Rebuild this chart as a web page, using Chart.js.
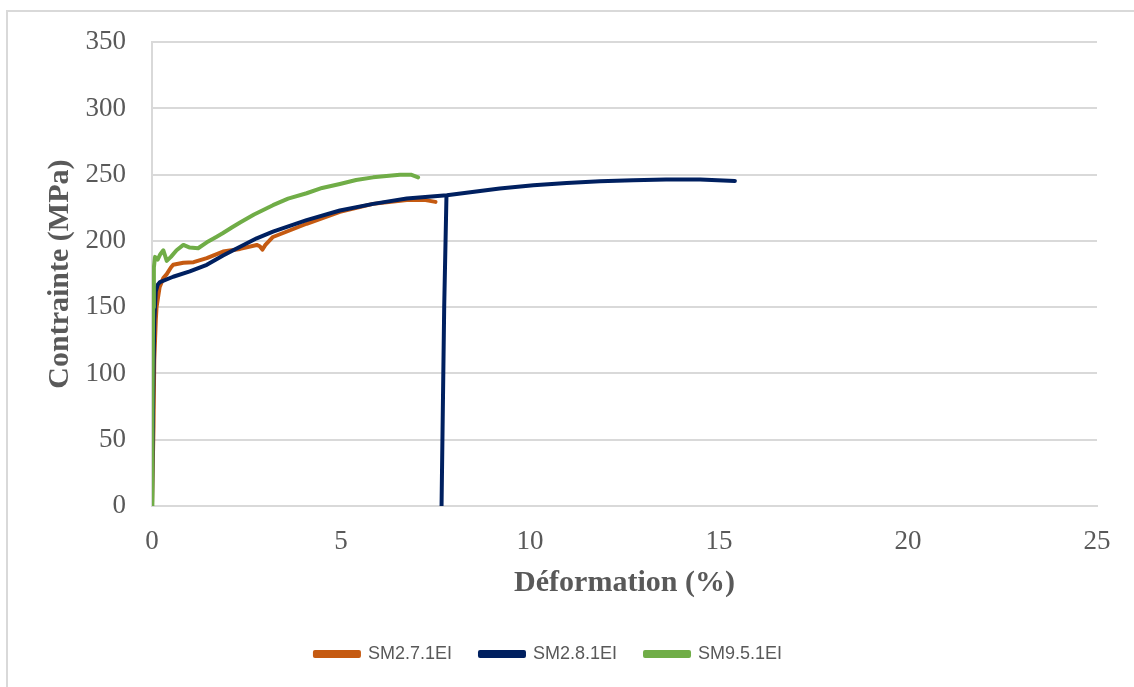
<!DOCTYPE html>
<html>
<head>
<meta charset="utf-8">
<script src="https://cdn.jsdelivr.net/npm/chart.js@4"></script>
<style>
  html, body { margin: 0; padding: 0; background: #fff; }
  #wrap { width: 1134px; height: 687px; }
</style>
</head>
<body>
<div id="wrap"><canvas id="chart" width="1134" height="687"></canvas></div>
<script>
// strain (%) / stress (MPa)
let sm27Strain = [0, 0.04, 0.06, 0.1, 0.12, 0.2, 0.3, 0.39, 0.5, 0.56, 0.83, 1.1, 1.45, 1.88, 2.33, 2.77, 2.85, 2.92, 3.0, 3.2, 4.09, 4.97, 5.85, 6.74, 7.2, 7.5];
let sm27Stress = [0, 60, 110, 140, 150, 165, 172, 175, 180, 182, 183.5, 184, 187, 192, 194, 197, 196, 193.5, 197, 203, 213, 222, 228, 231, 231, 229.5];

let sm28Strain = [0, 0.03, 0.06, 0.1, 0.15, 0.21, 0.56, 1.0, 1.45, 1.88, 2.33, 2.77, 3.2, 4.09, 4.97, 5.85, 6.74, 7.8, 9.2, 10.09, 10.97, 11.85, 12.73, 13.6, 14.5, 15.42];
let sm28Stress = [0, 80, 140, 162, 167, 169, 173, 177, 182, 189, 195.6, 202, 207, 215.7, 223, 228, 232, 234.5, 239.6, 242, 243.8, 245, 245.8, 246.3, 246.3, 245.3];

// rupture drop of SM2.8.1EI
let sm28DropStrain = [7.79, 7.73, 7.66];
let sm28DropStress = [234, 150, 0];

let sm95Strain = [0, 0.01, 0.03, 0.05, 0.08, 0.15, 0.22, 0.3, 0.39, 0.5, 0.65, 0.83, 1.0, 1.22, 1.45, 1.7, 1.88, 2.1, 2.33, 2.7, 3.2, 3.6, 4.09, 4.5, 4.97, 5.4, 5.85, 6.2, 6.56, 6.85, 7.04];
let sm95Stress = [0, 60, 150, 180, 188, 186, 190, 193, 185, 188, 193, 197, 195, 194.5, 199, 203, 206, 210, 214, 220, 227, 232, 236, 240, 243, 246, 248, 249, 250, 250, 248];

let seriesNames = ["SM2.7.1EI", "SM2.8.1EI", "SM9.5.1EI"];
let seriesColors = ["#C55A11", "#002060", "#70AD47"];

let xTitle = "Déformation (%)";
let yTitle = "Contrainte (MPa)";

function toPoints(xs, ys) {
  return xs.map((x, i) => ({ x: x, y: ys[i] }));
}

function lineSet(label, color, pts, order) {
  return {
    label: label,
    data: pts,
    borderColor: color,
    backgroundColor: color,
    borderWidth: 4,
    borderCapStyle: 'round',
    borderJoinStyle: 'round',
    pointRadius: 0,
    tension: 0,
    fill: false,
    order: order
  };
}

// white page with the light frame of the original
const framePlugin = {
  id: 'frame',
  beforeDraw(chart) {
    let ctx = chart.ctx;
    ctx.save();
    ctx.fillStyle = '#fff';
    ctx.fillRect(0, 0, chart.width, chart.height);
    ctx.strokeStyle = '#d9d9d9';
    ctx.lineWidth = 2;
    ctx.beginPath();
    ctx.moveTo(chart.width, 11);
    ctx.lineTo(7, 11);
    ctx.lineTo(7, chart.height);
    ctx.stroke();
    ctx.restore();
  }
};

let ctx = document.getElementById('chart').getContext('2d');
new Chart(ctx, {
  type: 'line',
  data: {
    datasets: [
      lineSet(seriesNames[0], seriesColors[0], toPoints(sm27Strain, sm27Stress), 3),
      lineSet(seriesNames[1], seriesColors[1], toPoints(sm28Strain, sm28Stress), 2),
      lineSet(seriesNames[2], seriesColors[2], toPoints(sm95Strain, sm95Stress), 1),
      lineSet('drop', seriesColors[1], toPoints(sm28DropStrain, sm28DropStress), 2)
    ]
  },
  options: {
    responsive: false,
    animation: false,
    layout: { padding: { left: 0, right: 37, top: 41, bottom: 14 } },
    plugins: {
      tooltip: { enabled: false },
      legend: {
        position: 'bottom',
        labels: {
          filter: item => item.text !== 'drop',
          sort: (a, b) => a.datasetIndex - b.datasetIndex,
          boxWidth: 44,
          boxHeight: 4,
          padding: 28,
          color: '#595959',
          font: { family: 'Liberation Sans', size: 18 }
        }
      }
    },
    scales: {
      x: {
        type: 'linear',
        min: 0,
        max: 25,
        ticks: {
          stepSize: 5,
          padding: 20,
          color: '#595959',
          font: { family: 'Liberation Serif', size: 27 }
        },
        grid: { display: false, drawTicks: false },
        border: { display: true, color: '#d9d9d9', width: 2 },
        title: {
          display: true,
          text: xTitle,
          color: '#595959',
          font: { family: 'Liberation Serif', size: 30, weight: 'bold' },
          padding: { top: 4, bottom: 16 }
        },
        afterFit: scale => { scale.height = 111; }
      },
      y: {
        min: 0,
        max: 350,
        ticks: {
          stepSize: 50,
          padding: 26,
          color: '#595959',
          font: { family: 'Liberation Serif', size: 27 }
        },
        grid: { color: '#d9d9d9', lineWidth: 2, drawTicks: false },
        border: { display: true, color: '#d9d9d9', width: 2 },
        title: {
          display: true,
          text: yTitle,
          color: '#595959',
          font: { family: 'Liberation Serif', size: 30, weight: 'bold' },
          padding: { top: 42, bottom: 0 }
        },
        afterFit: scale => { scale.width = 152; }
      }
    }
  },
  plugins: [framePlugin]
});
</script>
</body>
</html>
